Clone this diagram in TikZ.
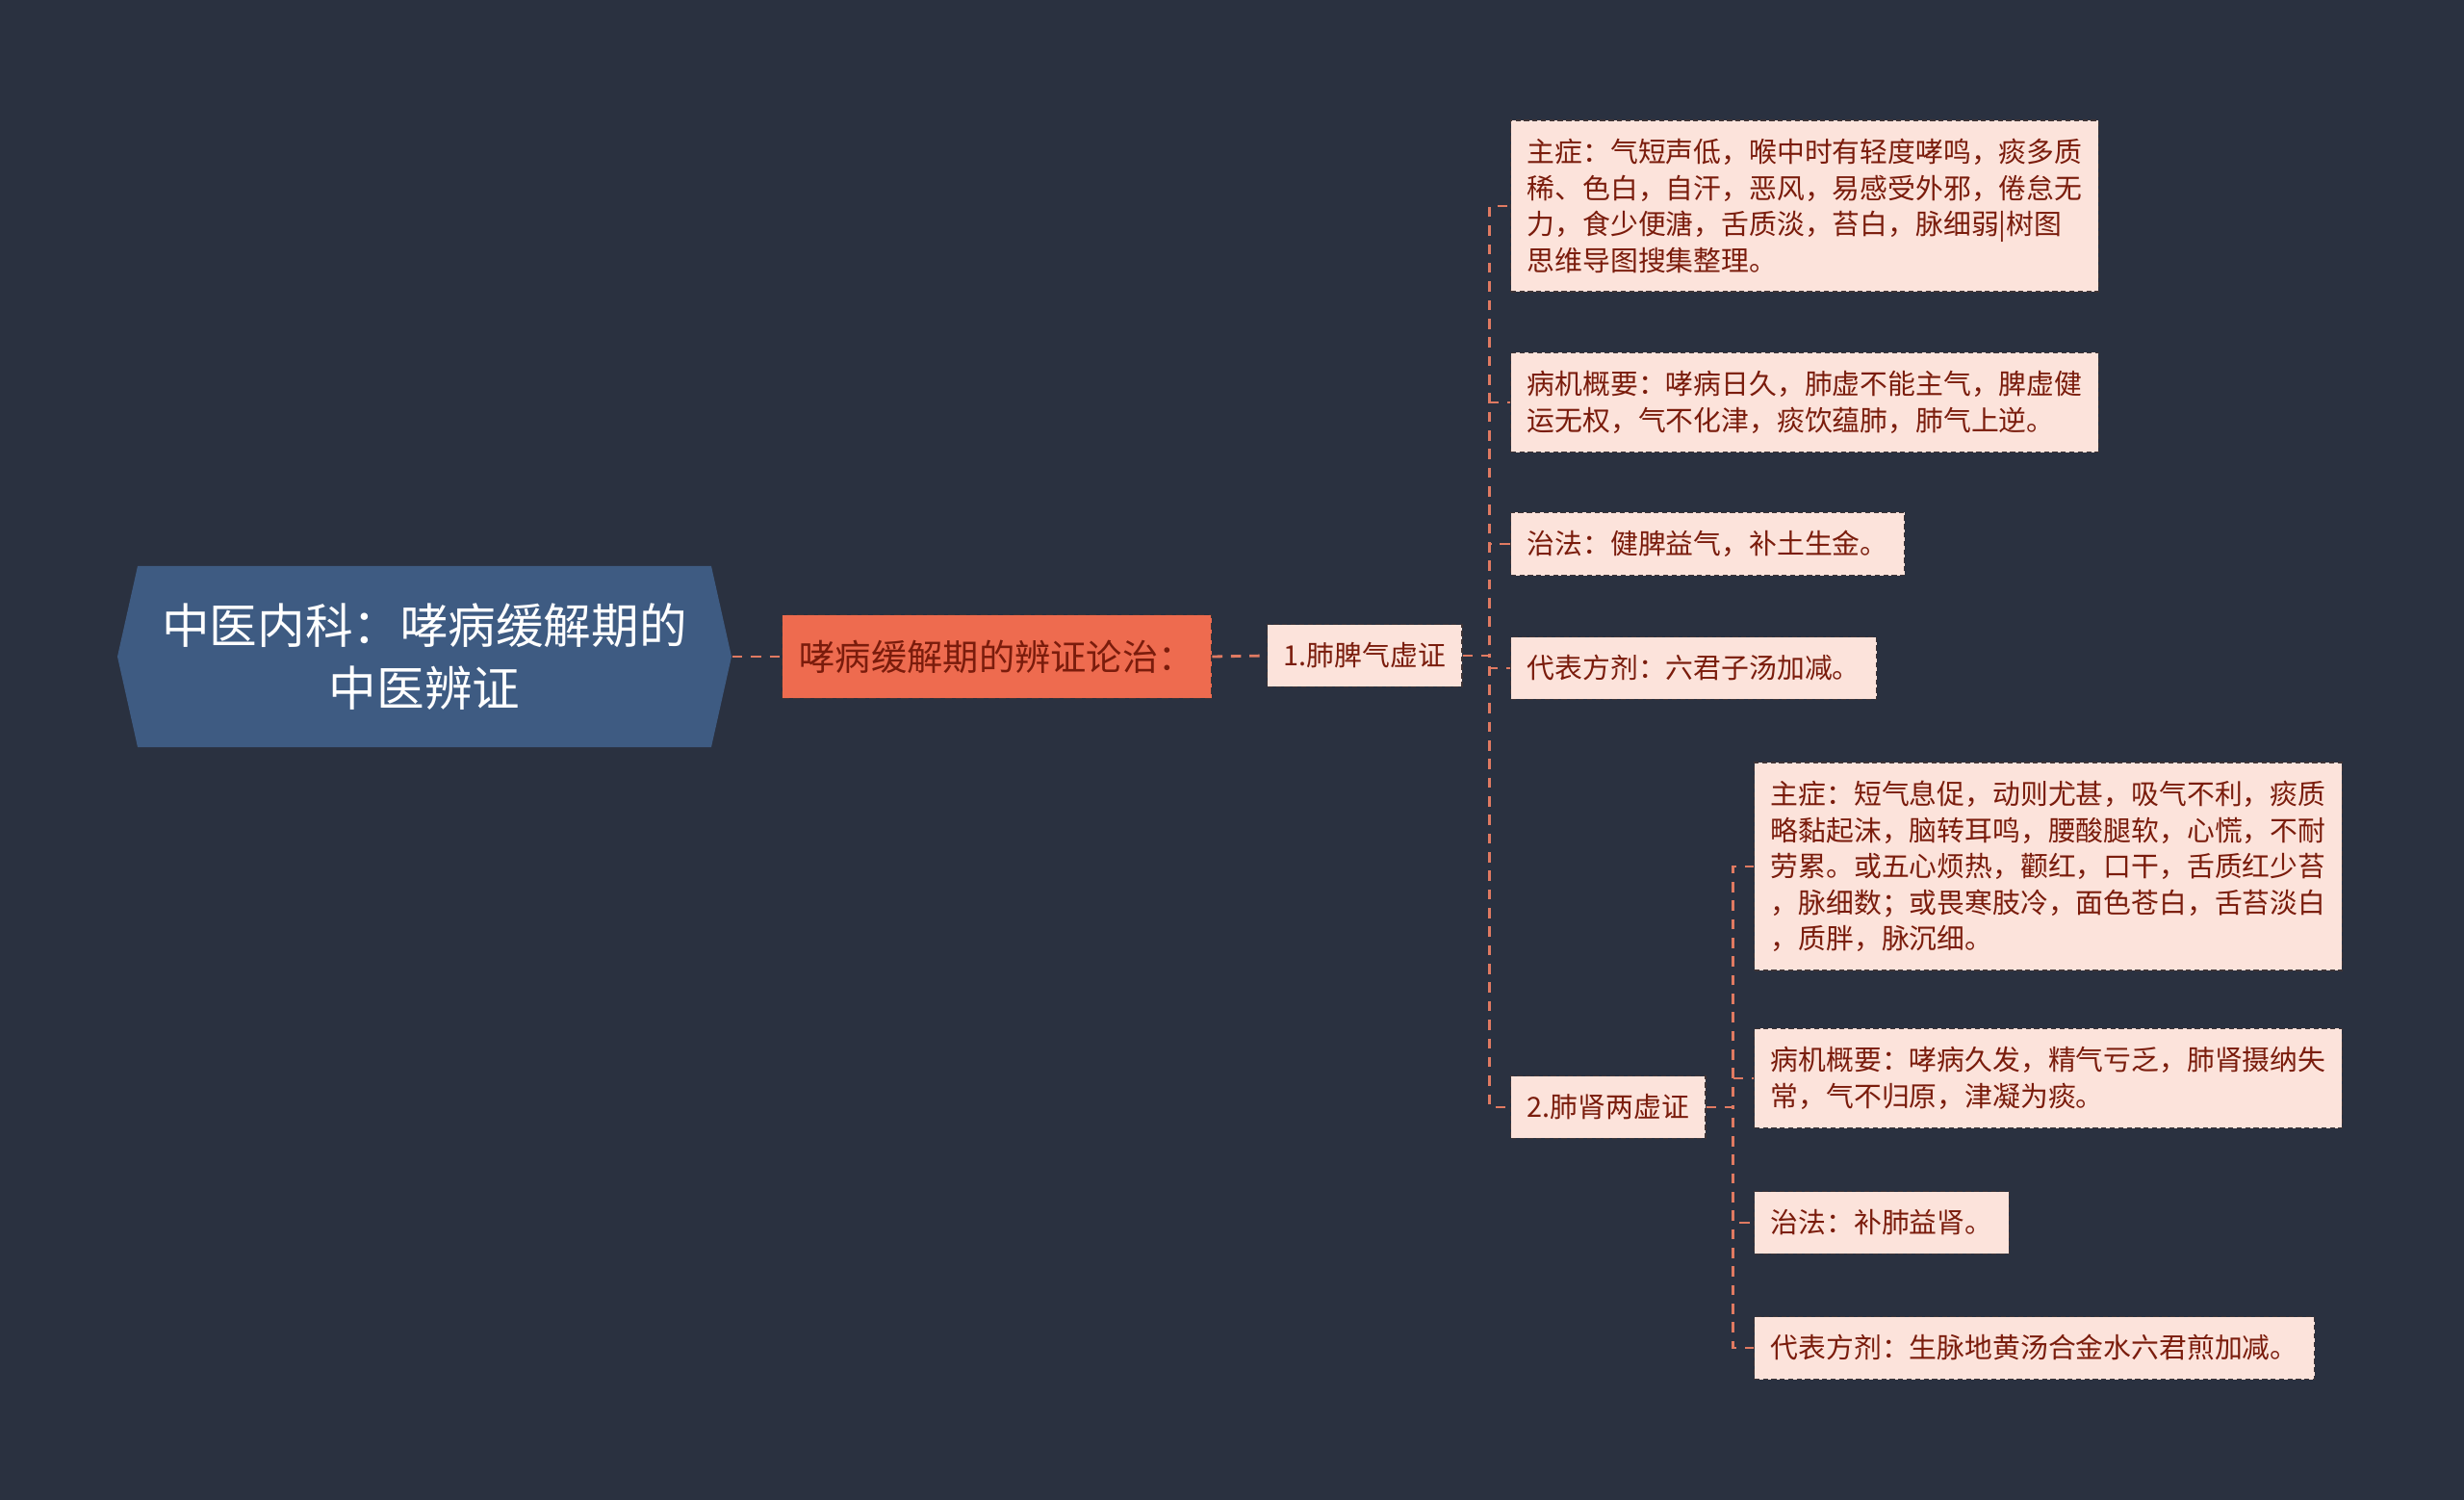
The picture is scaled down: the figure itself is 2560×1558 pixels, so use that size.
\documentclass[tikz,border=0pt]{standalone}
\usepackage{fontspec}
\setmainfont{Noto Sans CJK SC}
\usepackage{tikz}
\usetikzlibrary{positioning}

\definecolor{bgdark}{HTML}{2A3140}
\definecolor{rootblue}{HTML}{3E5B82}
\definecolor{coral}{HTML}{EE6B4F}
\definecolor{leafpink}{HTML}{FCE3DB}
\definecolor{leaftext}{HTML}{7A1C0C}
\definecolor{linkcol}{HTML}{E07A62}
\definecolor{edgedark}{HTML}{3E3436}

\begin{document}
\begin{tikzpicture}[
    x=0.01cm, y=-0.01cm,
    link/.style={draw=linkcol, line width=0.8pt, dash pattern=on 3pt off 2.5pt},
    roottext/.style={text=white, align=center, font=\fontsize{14.1}{18.5}\selectfont, minimum width=6.38cm},
    branch/.style={fill=coral, draw=edgedark, dash pattern=on 2pt off 1.2pt, text=leaftext, anchor=west,
        font=\fontsize{10.6}{12.5}\selectfont, inner xsep=0.18cm, inner ysep=0.26cm},
    leaf/.style={fill=leafpink, draw=edgedark, dash pattern=on 1.5pt off 1pt, text=leaftext, anchor=west,
        align=left, font=\fontsize{8.2}{10.7}\selectfont, inner xsep=0.17cm, inner ysep=0.19cm}
]

    % Background
    \useasboundingbox (0,0) rectangle (2560,1558);
    \fill[bgdark] (0,0) rectangle (2560,1558);

    % Root
    \fill[rootblue] (143,588) -- (739,588) -- (760,682) -- (739,776) -- (143,776) -- (122,682) -- cycle;
    \node[roottext] (root) at (441,682) {中医内科：哮病缓解期的\\中医辨证};

    % Main branch
    \node[branch] (lun) at (812,682) {哮病缓解期的辨证论治：};

    % 1. lung-spleen
    \node[leaf] (feipi) at (1316,681) {1.肺脾气虚证};
    \node[leaf] (fpzz) at (1569,214) {主症：气短声低，喉中时有轻度哮鸣，痰多质\\稀、色白，自汗，恶风，易感受外邪，倦怠无\\力，食少便溏，舌质淡，苔白，脉细弱|树图\\思维导图搜集整理。};
    \node[leaf] (fpbj) at (1569,418) {病机概要：哮病日久，肺虚不能主气，脾虚健\\运无权，气不化津，痰饮蕴肺，肺气上逆。};
    \node[leaf] (fpzf) at (1569,565) {治法：健脾益气，补土生金。};
    \node[leaf] (fpfj) at (1569,694) {代表方剂：六君子汤加减。};

    % 2. lung-kidney
    \node[leaf] (feishen) at (1569,1150) {2.肺肾两虚证};
    \node[leaf] (fszz) at (1822,900) {主症：短气息促，动则尤甚，吸气不利，痰质\\略黏起沫，脑转耳鸣，腰酸腿软，心慌，不耐\\劳累。或五心烦热，颧红，口干，舌质红少苔\\，脉细数；或畏寒肢冷，面色苍白，舌苔淡白\\，质胖，脉沉细。};
    \node[leaf] (fsbj) at (1822,1120) {病机概要：哮病久发，精气亏乏，肺肾摄纳失\\常，气不归原，津凝为痰。};
    \node[leaf] (fszf) at (1822,1270) {治法：补肺益肾。};
    \node[leaf] (fsfj) at (1822,1400) {代表方剂：生脉地黄汤合金水六君煎加减。};

    % Links
    \draw[link] (root.east) -- (lun.west);
    \draw[link] (lun.east) -- (feipi.west);
    \foreach \c in {fpzz, fpbj, fpzf, fpfj, feishen}
        \draw[link] (feipi.east) -- ++(28,0) |- (\c.west);
    \foreach \c in {fszz, fsbj, fszf, fsfj}
        \draw[link] (feishen.east) -- ++(28,0) |- (\c.west);

\end{tikzpicture}
\end{document}
